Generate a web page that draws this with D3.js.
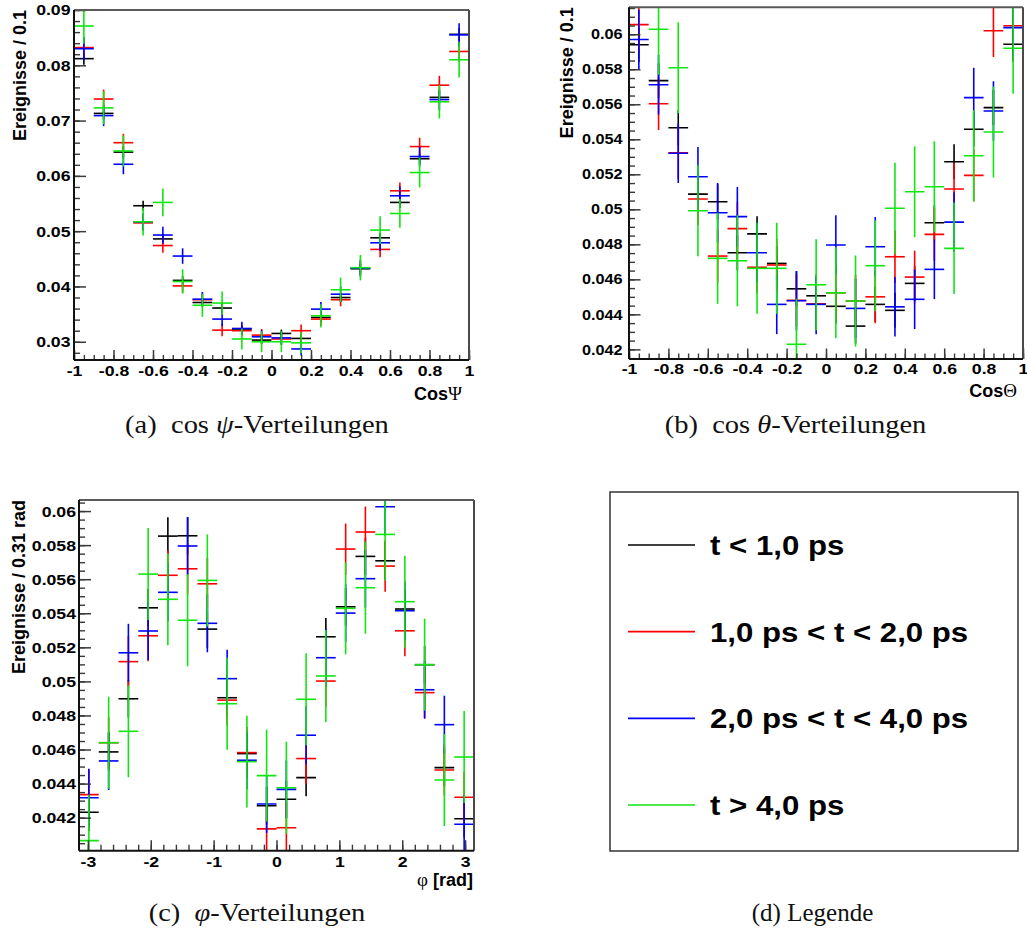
<!DOCTYPE html>
<html>
<head>
<meta charset="utf-8">
<script src="https://cdn.jsdelivr.net/npm/d3@7"></script>
<style>
  body { margin: 0; background: #fff; }
  svg { display: block; }
</style>
</head>
<body>
<svg id="fig" width="1027" height="932"></svg>
<script>
// ---------- series ----------
const seriesLabels = ["t < 1,0 ps", "1,0 ps < t < 2,0 ps", "2,0 ps < t < 4,0 ps", "t > 4,0 ps"];
const seriesColors = ["#000000", "#ff0000", "#0000ff", "#10e610"];

// ---------- bin centres ----------
const cosCentres = [-0.95, -0.85, -0.75, -0.65, -0.55, -0.45, -0.35, -0.25, -0.15, -0.05,
                     0.05,  0.15,  0.25,  0.35,  0.45,  0.55,  0.65,  0.75,  0.85,  0.95];
const phiCentres = [-2.985, -2.670, -2.356, -2.042, -1.728, -1.414, -1.100, -0.785, -0.471, -0.157,
                     0.157,  0.471,  0.785,  1.100,  1.414,  1.728,  2.042,  2.356,  2.670,  2.985];

// ---------- cos psi ----------
const psiBlack = [0.0812, 0.0713, 0.0643, 0.0546, 0.0486, 0.0411, 0.0371, 0.0361, 0.0323, 0.0303,
                  0.0315, 0.0306, 0.0344, 0.0380, 0.0432, 0.0488, 0.0552, 0.0631, 0.0742, 0.0856];
const psiRed   = [0.0832, 0.0739, 0.0660, 0.0515, 0.0474, 0.0401, 0.0376, 0.0321, 0.0320, 0.0312,
                  0.0305, 0.0320, 0.0341, 0.0376, 0.0433, 0.0467, 0.0573, 0.0653, 0.0764, 0.0825];
const psiBlue  = [0.0830, 0.0709, 0.0621, 0.0517, 0.0493, 0.0455, 0.0377, 0.0341, 0.0324, 0.0309,
                  0.0307, 0.0287, 0.0359, 0.0386, 0.0433, 0.0479, 0.0564, 0.0635, 0.0738, 0.0855];
const psiGreen = [0.0871, 0.0723, 0.0645, 0.0517, 0.0552, 0.0409, 0.0366, 0.0370, 0.0305, 0.0300,
                  0.0300, 0.0298, 0.0347, 0.0394, 0.0434, 0.0502, 0.0532, 0.0606, 0.0734, 0.0810];
const psiErrBlack = [0.0011, 0.0010, 0.0010, 0.0009, 0.0009, 0.0008, 0.0008, 0.0008, 0.0007, 0.0007,
                     0.0007, 0.0007, 0.0008, 0.0008, 0.0009, 0.0009, 0.0010, 0.0010, 0.0011, 0.0012];
const psiErrRed   = [0.0018, 0.0017, 0.0016, 0.0014, 0.0013, 0.0012, 0.0012, 0.0011, 0.0011, 0.0011,
                     0.0011, 0.0011, 0.0012, 0.0012, 0.0013, 0.0014, 0.0015, 0.0016, 0.0017, 0.0018];
const psiErrBlue  = [0.0021, 0.0019, 0.0018, 0.0016, 0.0015, 0.0014, 0.0013, 0.0013, 0.0012, 0.0012,
                     0.0012, 0.0012, 0.0013, 0.0014, 0.0015, 0.0015, 0.0017, 0.0018, 0.0019, 0.0021];
const psiErrGreen = [0.0032, 0.0030, 0.0028, 0.0025, 0.0025, 0.0022, 0.0021, 0.0021, 0.0019, 0.0019,
                     0.0019, 0.0019, 0.0021, 0.0022, 0.0023, 0.0025, 0.0026, 0.0027, 0.0030, 0.0032];

// ---------- cos theta ----------
const thetaBlack = [0.05940, 0.05735, 0.05466, 0.05087, 0.05043, 0.04752, 0.04860, 0.04691, 0.04546, 0.04506,
                    0.04446, 0.04333, 0.04457, 0.04423, 0.04577, 0.04923, 0.05272, 0.05457, 0.05581, 0.05943];
const thetaRed   = [0.06055, 0.05603, 0.05323, 0.05059, 0.04733, 0.04890, 0.04669, 0.04682, 0.04480, 0.04460,
                    0.04523, 0.04476, 0.04500, 0.04729, 0.04613, 0.04857, 0.05116, 0.05194, 0.06020, 0.06049];
const thetaBlue  = [0.05970, 0.05712, 0.05320, 0.05186, 0.04980, 0.04958, 0.04752, 0.04457, 0.04478, 0.04457,
                    0.04796, 0.04434, 0.04786, 0.04443, 0.04486, 0.04657, 0.04927, 0.05638, 0.05562, 0.06038];
const thetaGreen = [0.06550, 0.06029, 0.05809, 0.04992, 0.04720, 0.04706, 0.04663, 0.04663, 0.04229, 0.04569,
                    0.04523, 0.04476, 0.04678, 0.05006, 0.05100, 0.05129, 0.04777, 0.05306, 0.05442, 0.05920];
const thetaErr = [0.0010, 0.0015, 0.0017, 0.0026];   // black, red, blue, green

// ---------- phi ----------
const phiBlack = [0.04232, 0.04586, 0.04898, 0.05432, 0.05853, 0.05855, 0.05307, 0.04904, 0.04576, 0.04270,
                  0.04308, 0.04435, 0.05262, 0.05438, 0.05734, 0.05708, 0.05425, 0.05098, 0.04494, 0.04194];
const phiRed   = [0.04335, 0.04640, 0.05116, 0.05268, 0.05623, 0.05661, 0.05573, 0.04890, 0.04582, 0.04134,
                  0.04141, 0.04547, 0.05002, 0.05777, 0.05877, 0.05677, 0.05297, 0.04934, 0.04480, 0.04320];
const phiBlue  = [0.04317, 0.04533, 0.05168, 0.05296, 0.05523, 0.05795, 0.05341, 0.05016, 0.04537, 0.04280,
                  0.04366, 0.04684, 0.05139, 0.05401, 0.05603, 0.06025, 0.05415, 0.04951, 0.04746, 0.04161];
const phiGreen = [0.04065, 0.04640, 0.04707, 0.05630, 0.05482, 0.05359, 0.05593, 0.04869, 0.04529, 0.04447,
                  0.04376, 0.04895, 0.05032, 0.05429, 0.05550, 0.05863, 0.05468, 0.05098, 0.04421, 0.04556];
const phiErr = [0.0011, 0.0015, 0.0017, 0.0027];

// ---------- tick labels ----------
const cosXTicks = [-1, -0.8, -0.6, -0.4, -0.2, 0, 0.2, 0.4, 0.6, 0.8, 1];
const psiYTicks = [0.03, 0.04, 0.05, 0.06, 0.07, 0.08, 0.09];
const fineYTicks = [0.042, 0.044, 0.046, 0.048, 0.05, 0.052, 0.054, 0.056, 0.058, 0.06];
const phiXTicks = [-3, -2, -1, 0, 1, 2, 3];

// ---------- drawing ----------
const svg = d3.select("#fig");
const SANS = "'Liberation Sans', Arial, Helvetica, sans-serif";
const SERIF = "'Liberation Serif', 'DejaVu Serif', serif";

// widen a text element horizontally about its anchor x
function widen(node, k) {
  const x = +(node.getAttribute("x") || 0);
  node.setAttribute("transform", `translate(${x},0) scale(${k},1) translate(${-x},0)`);
}

function drawPanel(p) {
  const x = d3.scaleLinear(p.xDomain, [p.left, p.right]);
  const y = d3.scaleLinear(p.yDomain, [p.bottom, p.top]);
  const g = svg.append("g");
  const clipId = "clip-" + p.id;
  svg.append("clipPath").attr("id", clipId).append("rect")
    .attr("x", p.left).attr("y", p.top)
    .attr("width", p.right - p.left).attr("height", p.bottom - p.top);

  // error-bar crosses
  const marks = g.append("g").attr("clip-path", `url(#${clipId})`);
  p.series.forEach((vals, s) => {
    const err = (i) => Array.isArray(p.errors[s]) ? p.errors[s][i] : p.errors[s];
    const sg = marks.append("g").attr("stroke", seriesColors[s]).attr("stroke-width", 1.6);
    sg.selectAll("line.h").data(vals).join("line").attr("class", "h")
      .attr("x1", (d, i) => x(p.centres[i] - p.binWidth / 2))
      .attr("x2", (d, i) => x(p.centres[i] + p.binWidth / 2))
      .attr("y1", d => y(d)).attr("y2", d => y(d));
    sg.selectAll("line.v").data(vals).join("line").attr("class", "v")
      .attr("x1", (d, i) => x(p.centres[i])).attr("x2", (d, i) => x(p.centres[i]))
      .attr("y1", (d, i) => y(d - err(i))).attr("y2", (d, i) => y(d + err(i)));
  });

  // minor ticks
  const tickColor = "#3a3a3a";
  g.append("g").attr("transform", `translate(0,${p.bottom})`).attr("color", tickColor)
    .call(d3.axisBottom(x).tickValues(p.xMinor).tickSize(-p.xMinorLen).tickFormat(""))
    .call(a => a.select(".domain").remove())
    .selectAll("line").attr("stroke-width", 1.4);
  g.append("g").attr("transform", `translate(${p.left},0)`).attr("color", tickColor)
    .call(d3.axisLeft(y).tickValues(p.yMinor).tickSize(-p.yMinorLen).tickFormat(""))
    .call(a => a.select(".domain").remove())
    .selectAll("line").attr("stroke-width", 1.4);

  // major ticks with labels
  const xa = g.append("g").attr("transform", `translate(0,${p.bottom})`).attr("color", tickColor)
    .call(d3.axisBottom(x).tickValues(p.xTicks).tickSize(-p.xMajorLen).tickPadding(p.xPad)
      .tickFormat(d => String(d)))
    .call(a => a.select(".domain").remove());
  xa.selectAll("line").attr("stroke-width", 1.5);
  xa.selectAll("text").attr("fill", "#000").attr("font-family", SANS).attr("font-weight", "bold")
    .attr("font-size", p.xFont).each(function () { widen(this, p.xWiden); });

  const ya = g.append("g").attr("transform", `translate(${p.left},0)`).attr("color", tickColor)
    .call(d3.axisLeft(y).tickValues(p.yTicks).tickSize(-p.yMajorLen).tickPadding(p.yPad)
      .tickFormat(d => String(d)))
    .call(a => a.select(".domain").remove());
  ya.selectAll("line").attr("stroke-width", 1.5);
  ya.selectAll("text").attr("fill", "#000").attr("font-family", SANS).attr("font-weight", "bold")
    .attr("font-size", p.yFont).each(function () { widen(this, p.yWiden); });

  // frame
  const frame = g.append("g").attr("fill", "none").attr("stroke-width", 2);
  frame.append("line").attr("x1", p.left).attr("x2", p.right).attr("y1", p.top).attr("y2", p.top).attr("stroke", "#5a5a5a");
  frame.append("line").attr("x1", p.right).attr("x2", p.right).attr("y1", p.top).attr("y2", p.bottom).attr("stroke", "#4a4a4a");
  frame.append("line").attr("x1", p.left).attr("x2", p.right).attr("y1", p.bottom).attr("y2", p.bottom).attr("stroke", "#111");
  frame.append("line").attr("x1", p.left).attr("x2", p.left).attr("y1", p.top).attr("y2", p.bottom).attr("stroke", "#111");

  // axis titles
  g.append("text").attr("transform", `translate(${p.yTitleX},${p.top}) rotate(-90)`)
    .attr("text-anchor", "end").attr("font-family", SANS).attr("font-weight", "bold")
    .attr("font-size", 18).attr("fill", "#000").text(p.yTitle);

  const xt = g.append("text").attr("x", p.xTitleX).attr("y", p.xTitleY).attr("text-anchor", "end")
    .attr("font-family", SANS).attr("font-weight", "bold").attr("font-size", 18).attr("fill", "#000");
  p.xTitle.forEach(([s, greek]) => {
    const ts = xt.append("tspan").text(s);
    if (greek) ts.attr("font-family", SERIF).attr("font-weight", "normal").attr("font-size", 19);
  });
}

const cosMinor = d3.range(-1, 1.0001, 0.05);

drawPanel({
  id: "psi", left: 74, right: 469, top: 10, bottom: 360,
  xDomain: [-1, 1], yDomain: [0.0267, 0.09], centres: cosCentres, binWidth: 0.1,
  series: [psiBlack, psiRed, psiBlue, psiGreen],
  errors: [psiErrBlack, psiErrRed, psiErrBlue, psiErrGreen],
  xTicks: cosXTicks, yTicks: psiYTicks,
  xMinor: cosMinor, yMinor: d3.range(0.028, 0.0901, 0.002),
  xMajorLen: 10, xMinorLen: 5, yMajorLen: 12, yMinorLen: 6,
  xPad: 5, yPad: 3.5, xFont: 15.5, yFont: 15.5, xWiden: 1.14, yWiden: 1.14,
  yTitle: "Ereignisse / 0.1", yTitleX: 26,
  xTitle: [["Cos", false], ["Ψ", true]], xTitleX: 462, xTitleY: 400
});

drawPanel({
  id: "theta", left: 629, right: 1023, top: 7.3, bottom: 359,
  xDomain: [-1, 1], yDomain: [0.04145, 0.06154], centres: cosCentres, binWidth: 0.1,
  series: [thetaBlack, thetaRed, thetaBlue, thetaGreen],
  errors: thetaErr,
  xTicks: cosXTicks, yTicks: fineYTicks,
  xMinor: cosMinor, yMinor: d3.range(0.0415, 0.0616, 0.0005),
  xMajorLen: 10.5, xMinorLen: 5.5, yMajorLen: 11.5, yMinorLen: 6,
  xPad: 4, yPad: 6.5, xFont: 15.5, yFont: 14.5, xWiden: 1.14, yWiden: 1.12,
  yTitle: "Ereignisse / 0.1", yTitleX: 573,
  xTitle: [["Cos", false], ["Θ", true]], xTitleX: 1017, xTitleY: 397
});

drawPanel({
  id: "phi", left: 79, right: 474, top: 500, bottom: 850.7,
  xDomain: [-Math.PI, Math.PI], yDomain: [0.04006, 0.06065], centres: phiCentres, binWidth: Math.PI / 10,
  series: [phiBlack, phiRed, phiBlue, phiGreen],
  errors: phiErr,
  xTicks: phiXTicks, yTicks: fineYTicks,
  xMinor: d3.range(-3, 3.001, 0.2), yMinor: d3.range(0.0405, 0.0607, 0.0005),
  xMajorLen: 10.5, xMinorLen: 6, yMajorLen: 12, yMinorLen: 6,
  xPad: 5, yPad: 3, xFont: 15.5, yFont: 15.5, xWiden: 1.14, yWiden: 1.14,
  yTitle: "Ereignisse / 0.31 rad", yTitleX: 25,
  xTitle: [["φ", true], [" [rad]", false]], xTitleX: 473, xTitleY: 886
});

// ---------- legend ----------
const legend = svg.append("g");
legend.append("rect").attr("x", 610).attr("y", 492).attr("width", 408).attr("height", 359)
  .attr("fill", "#fff").attr("stroke", "#333").attr("stroke-width", 1.5);
const legendY = d3.scalePoint().domain(seriesLabels).range([545, 805]);
const items = legend.selectAll("g.item").data(seriesLabels).join("g").attr("class", "item")
  .attr("transform", d => `translate(0,${legendY(d)})`);
items.append("line").attr("x1", 628).attr("x2", 695).attr("y1", 0).attr("y2", 0)
  .attr("stroke", (d, i) => seriesColors[i]).attr("stroke-width", 1.6);
items.append("text").attr("x", 710).attr("y", 10)
  .attr("font-family", SANS).attr("font-weight", "bold").attr("font-size", 27).attr("fill", "#000")
  .text(d => d)
  .each(function () { widen(this, 1.155); });

// ---------- captions ----------
// centred caption, widened by a fixed factor
function caption(cx, y, k, pieces) {
  const t = svg.append("text").attr("x", cx).attr("y", y).attr("text-anchor", "middle")
    .attr("font-family", SERIF).attr("font-size", 25).attr("fill", "#111")
    .style("white-space", "pre");
  pieces.forEach(([s, it]) => t.append("tspan").attr("font-style", it ? "italic" : null).text(s));
  widen(t.node(), k);
}
caption(257, 433, 1.14, [["(a)  cos ", false], ["ψ", true], ["-Verteilungen", false]]);
caption(795.5, 433, 1.14, [["(b)  cos ", false], ["θ", true], ["-Verteilungen", false]]);
caption(257, 921, 1.14, [["(c)  ", false], ["φ", true], ["-Verteilungen", false]]);
caption(812.5, 921, 1.0, [["(d) Legende", false]]);
</script>
</body>
</html>
